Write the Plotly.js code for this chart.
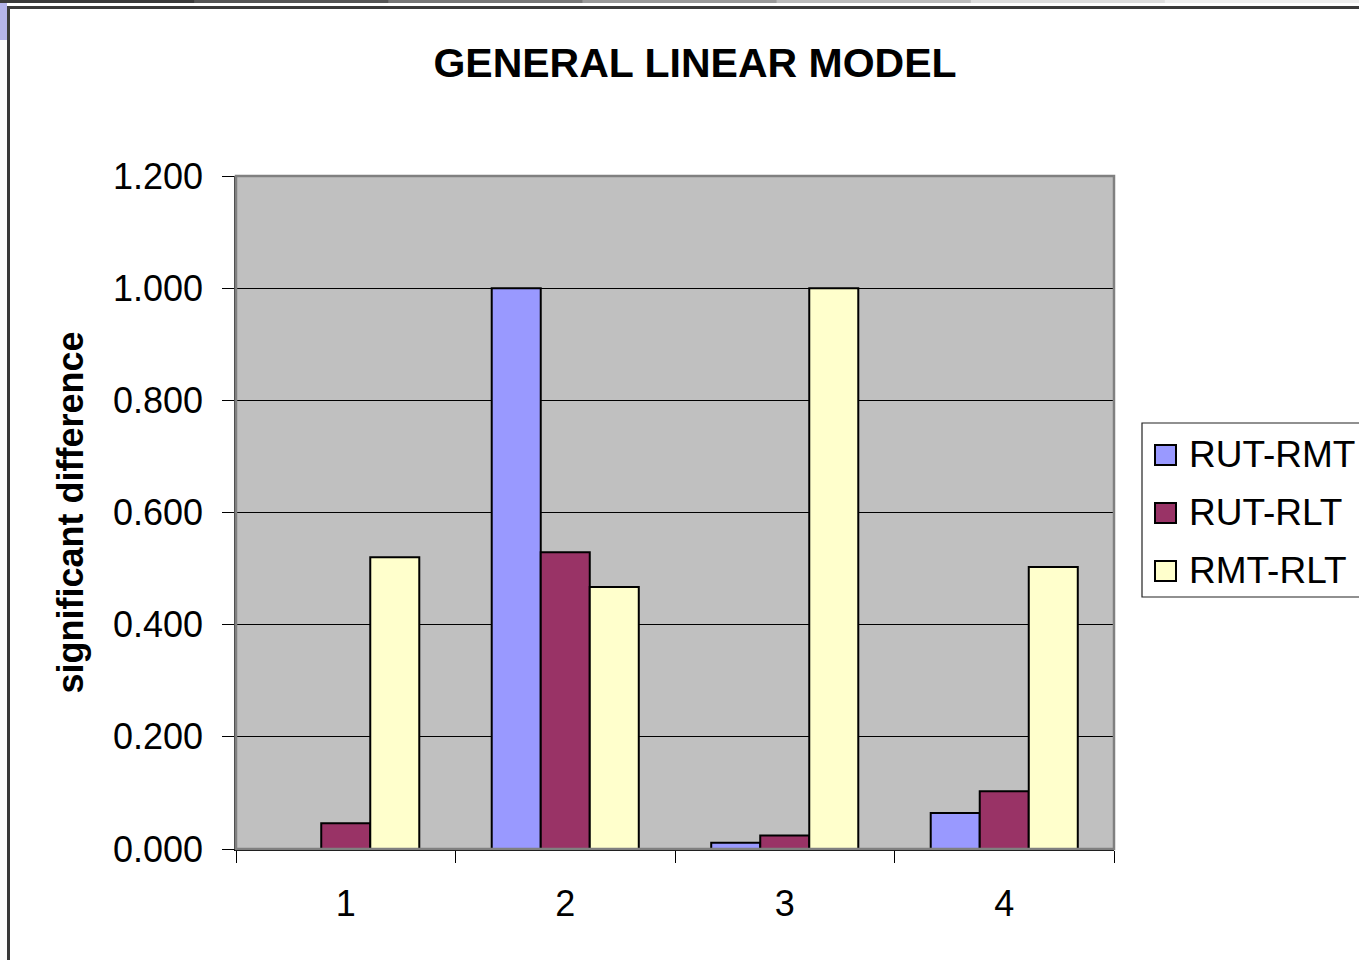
<!DOCTYPE html>
<html>
<head>
<meta charset="utf-8">
<script src="https://cdn.plot.ly/plotly-3.0.1.min.js"></script>
<style>
html,body{margin:0;padding:0;background:#fff;}
#chart{width:1359px;height:960px;}
</style>
</head>
<body>
<div id="chart"></div>
<script>
// ---- data ----
var categories = ['1', '2', '3', '4'];
var seriesNames = ['RUT-RMT', 'RUT-RLT', 'RMT-RLT'];
var rutRmt = [0.000, 1.000, 0.011, 0.064];
var rutRlt = [0.046, 0.529, 0.024, 0.103];
var rmtRlt = [0.520, 0.467, 1.000, 0.503];
var seriesColors = ['#9999FF', '#993366', '#FFFFCC'];
var yTickVals = [0, 0.2, 0.4, 0.6, 0.8, 1.0, 1.2];

var FONT = '"Liberation Sans", Arial, sans-serif';

// layout geometry (pixels)
var W = 1359, H = 960;
var L = 236, R = 1114, T = 176, B = 849;
function px(x) { return (x - L) / (R - L); }
function py(y) { return (B - y) / (B - T); }

var seriesValues = [rutRmt, rutRlt, rmtRlt];
var traces = seriesValues.map(function (vals, i) {
  return {
    type: 'bar',
    name: seriesNames[i],
    x: categories,
    y: vals,
    marker: { color: seriesColors[i], line: { color: '#000000', width: 2 } },
    showlegend: false,
    hoverinfo: 'name+y'
  };
});

var shapes = [];
var annotations = [];

// plot area border (gray)
shapes.push({ type: 'rect', xref: 'paper', yref: 'paper', x0: 0, x1: 1, y0: 0, y1: 1,
  line: { color: '#808080', width: 2.5 }, layer: 'above' });

// custom legend box
shapes.push({ type: 'rect', xref: 'paper', yref: 'paper',
  x0: px(1142), x1: px(1372), y0: py(597), y1: py(423),
  line: { color: '#222222', width: 1.2 }, fillcolor: '#FFFFFF' });
var legendY = [455, 513, 571];
seriesNames.forEach(function (n, i) {
  shapes.push({ type: 'rect', xref: 'paper', yref: 'paper',
    x0: px(1155), x1: px(1176), y0: py(legendY[i] + 10), y1: py(legendY[i] - 10),
    line: { color: '#000000', width: 2 }, fillcolor: seriesColors[i] });
  annotations.push({ xref: 'paper', yref: 'paper', x: px(1187), y: py(legendY[i] - 1),
    xanchor: 'left', yanchor: 'middle', showarrow: false, text: n,
    font: { family: FONT, size: 37, color: '#000' } });
});

// window frame decoration
var grad = ['#3a3a3a', '#555555', '#777777', '#999999', '#bbbbbb', '#dddddd', '#eeeeee'];
for (var g = 0; g < grad.length; g++) {
  shapes.push({ type: 'rect', xref: 'paper', yref: 'paper',
    x0: px(g * W / grad.length), x1: px((g + 1) * W / grad.length + 1), y0: py(3), y1: py(0),
    line: { width: 0 }, fillcolor: grad[g] });
}
shapes.push({ type: 'rect', xref: 'paper', yref: 'paper', x0: px(0), x1: px(7), y0: py(40), y1: py(3),
  line: { width: 0 }, fillcolor: '#B4B4EA' });
shapes.push({ type: 'rect', xref: 'paper', yref: 'paper', x0: px(7), x1: px(W + 2), y0: py(9), y1: py(6),
  line: { width: 0 }, fillcolor: '#3a3a3a' });
shapes.push({ type: 'rect', xref: 'paper', yref: 'paper', x0: px(7), x1: px(10), y0: py(H + 2), y1: py(6),
  line: { width: 0 }, fillcolor: '#3a3a3a' });

var layout = {
  width: W, height: H,
  margin: { l: L, r: W - R, t: T, b: H - B, pad: 0 },
  paper_bgcolor: '#FFFFFF',
  plot_bgcolor: '#C0C0C0',
  font: { family: FONT, color: '#000' },
  title: {
    text: '<b>GENERAL LINEAR MODEL</b>',
    font: { family: FONT, size: 41, color: '#000' },
    xref: 'container', yref: 'container', x: 695 / W, y: 1 - 63 / H,
    xanchor: 'center', yanchor: 'middle'
  },
  barmode: 'group',
  bargap: 0.33,
  bargroupgap: 0,
  xaxis: {
    type: 'category',
    categoryorder: 'array', categoryarray: categories,
    tickson: 'boundaries',
    ticks: 'outside', ticklen: 12, tickwidth: 1, tickcolor: '#000',
    showline: true, linecolor: '#000', linewidth: 1.5,
    showgrid: false, zeroline: false,
    tickfont: { family: FONT, size: 36, color: '#000' },
    ticklabelstandoff: 22
  },
  yaxis: {
    range: [0, 1.2],
    tickvals: yTickVals,
    tickformat: '.3f',
    ticks: 'outside', ticklen: 12, tickwidth: 1, tickcolor: '#000',
    showline: true, linecolor: '#404040', linewidth: 1.5,
    showgrid: true, gridcolor: '#000000', gridwidth: 1,
    zeroline: false,
    tickfont: { family: FONT, size: 36, color: '#000' },
    ticklabelstandoff: 12,
    title: { text: '<b>significant difference</b>', font: { family: FONT, size: 36, color: '#000' }, standoff: 18 }
  },
  shapes: shapes,
  annotations: annotations
};

Plotly.newPlot('chart', traces, layout, { displayModeBar: false, staticPlot: false });
</script>
</body>
</html>
